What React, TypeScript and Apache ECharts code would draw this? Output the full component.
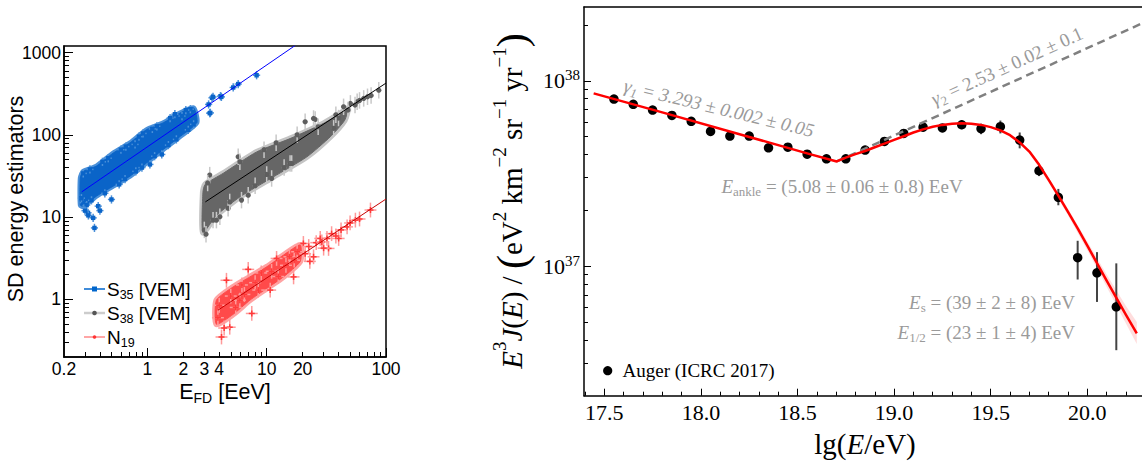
import React, { useEffect, useRef } from 'react';
import * as echarts from 'echarts';

// ================= LEFT PANEL DATA (E_FD [EeV], SD estimator) =================
const S35_CORE_UPPER = [[0.274, 30], [0.29, 36], [0.374, 41.7], [0.517, 60], [0.715, 80], [0.987, 116], [1.36, 140], [1.89, 185], [2.44, 213]];
const S35_CORE_LOWER = [[0.274, 14], [0.29, 13.5], [0.374, 18], [0.517, 23.8], [0.715, 31.5], [0.987, 45.7], [1.36, 66.5], [1.89, 96], [2.6, 140]];
const S35_POINTS = [
  [0.351, 9.8], [0.36, 7.4], [0.318, 11.3], [0.5, 16.4], [0.387, 13.6], [1.05, 43.7], [1.32, 57.8], [1.2, 127],
  [0.788, 76.5], [1.95, 169], [2.29, 205], [2.44, 134], [3.26, 234], [3.37, 185], [3.48, 282], [4.1, 295],
  [3.55, 289], [4.17, 289], [5.24, 376], [5.77, 414], [8.23, 530], [3.33, 183],
  [0.29, 34], [0.33, 38], [0.42, 47], [0.47, 52], [0.6, 66], [0.66, 72], [0.85, 95], [0.92, 104], [1.1, 118],
  [1.55, 160], [1.7, 178], [2.1, 200],
  [0.29, 15], [0.31, 14], [0.34, 16], [0.44, 19.5], [0.58, 25], [0.65, 29], [0.8, 36], [0.9, 40], [1.15, 55],
  [1.5, 75], [1.75, 88], [2.2, 115], [0.28, 17], [0.3, 12], [0.32, 10.5], [0.4, 12],
];
const S35_FIT = [[0.282, 20.3], [17.3, 1216]];

const S38_CORE_UPPER = [[2.92, 20], [3.05, 25], [4.31, 34], [8.24, 62], [15.7, 90], [30, 138], [41.5, 182], [48, 210]];
const S38_CORE_LOWER = [[2.92, 6.5], [3.79, 10.5], [5.96, 17.6], [11.4, 30.9], [21.7, 54], [34.1, 94.6], [45, 150]];
const S38_POINTS = [
  [3.33, 32.4], [5.77, 54.1], [5.96, 47], [11.0, 29.5], [15.7, 44.9], [21.0, 144], [25.5, 154], [36.4, 120],
  [6.15, 16.1], [7.0, 18.5], [4.75, 12.8], [4.05, 10.1], [3.55, 9.2], [50.3, 241], [57.3, 252], [65.0, 277],
  [87.0, 349], [44.1, 219], [24.7, 158], [16.2, 44.9], [4.9, 15.3], [3.79, 9.2], [3.0, 7], [3.1, 6.2], [3.2, 26],
  [9.5, 66], [12, 80], [18, 100], [27, 125], [10, 33], [14, 40], [8, 24], [55, 230], [60, 262], [70, 290],
  [75, 300], [48, 200], [40, 160], [38, 175],
];
const S38_FIT = [[3.06, 15.3], [100, 425]];

const N19_CORE_UPPER = [[3.79, 0.98], [5.23, 1.42], [7.23, 1.88], [10, 2.49], [13.8, 3.45], [19.1, 4.6]];
const N19_CORE_LOWER = [[3.79, 0.5], [5.23, 0.66], [7.23, 0.98], [10, 1.36], [13.8, 1.88], [19.1, 2.9]];
const N19_POINTS = [
  [4.18, 0.35], [4.6, 1.71], [7.0, 2.32], [7.5, 0.676], [10.7, 1.3], [16.8, 1.88], [20.3, 4.79], [32.0, 5.51],
  [40.1, 5.51], [47.2, 7.62], [55.4, 9.2], [74.1, 12.2], [28.1, 5.51], [24.7, 3.3], [33.0, 4.17], [5.96, 0.98],
  [4.9, 0.46], [12.1, 3.15], [3.9, 0.6], [4.0, 0.85], [4.4, 0.45], [5.0, 1.1], [5.5, 0.8], [6.2, 1.5], [6.5, 1.15],
  [8.0, 1.6], [8.5, 1.3], [9.0, 2.1], [11, 2.2], [12.5, 1.9], [14.5, 2.6], [15.5, 3.3], [17, 3.0], [18, 3.8],
  [21, 3.6], [22.5, 4.4], [23, 2.9], [26, 4.9], [29, 5.0], [30, 4.2], [35, 6.3], [38, 5.9], [42, 7.0], [50, 8.5], [60, 9.5],
];
const N19_FIT = [[3.9, 0.74], [100, 16.6]];

// error bar half-sizes in decades [x, y]
const S35_ERR = [0.03, 0.05];
const S38_ERR = [0.02, 0.1];
const N19_ERR = [0.05, 0.09];

const LX_RANGE = [0.2, 100];
const LY_RANGE = [0.2, 1200];
const LX_MAJOR = [1, 10, 100];
const LX_MINOR = [0.3, 0.4, 0.5, 0.6, 0.7, 0.8, 0.9, 2, 3, 4, 5, 6, 7, 8, 9, 20, 30, 40, 50, 60, 70, 80, 90];
const LX_LABELS = [0.2, 1, 2, 3, 4, 10, 20, 100];
const LY_MAJOR = [1, 10, 100, 1000];
const LY_MINOR = [0.3, 0.4, 0.5, 0.6, 0.7, 0.8, 0.9, 2, 3, 4, 5, 6, 7, 8, 9, 20, 30, 40, 50, 60, 70, 80, 90, 200, 300, 400, 500, 600, 700, 800, 900];
const LY_LABELS = [1, 10, 100, 1000];

// ================= RIGHT PANEL DATA (lg(E/eV), E^3 J in 1e37 eV^2 km^-2 sr^-1 yr^-1) =================
const LG_E = [17.55, 17.65, 17.75, 17.85, 17.95, 18.05, 18.15, 18.25, 18.35, 18.45, 18.55, 18.65, 18.75, 18.85, 18.95, 19.05, 19.15, 19.25, 19.35, 19.45, 19.55, 19.65, 19.75, 19.85, 19.95, 20.05, 20.15];
const FLUX_E37 = [7.97, 7.46, 6.95, 6.5, 6.04, 5.33, 5.03, 5.03, 4.35, 4.38, 4.02, 3.79, 3.79, 4.23, 4.71, 5.2, 5.62, 5.57, 5.79, 5.51, 5.65, 4.79, 3.27, 2.35, 1.11, 0.92, 0.603];
const FLUX_LOW_E37 = [7.9, 7.4, 6.9, 6.45, 5.99, 5.28, 4.98, 4.97, 4.29, 4.31, 3.95, 3.71, 3.7, 4.12, 4.58, 5.04, 5.42, 5.33, 5.48, 5.15, 5.2, 4.32, 3.06, 2.13, 0.847, 0.641, 0.352];
const FLUX_HIGH_E37 = [8.04, 7.52, 7.0, 6.55, 6.09, 5.38, 5.08, 5.09, 4.41, 4.45, 4.09, 3.87, 3.88, 4.34, 4.84, 5.36, 5.82, 5.81, 6.1, 5.87, 6.1, 5.26, 3.51, 2.61, 1.37, 1.19, 1.035];

const FIT_LG = [17.445, 17.8, 18.2, 18.55, 18.703, 18.75, 18.8, 18.85, 18.9, 18.95, 19.0, 19.05, 19.1, 19.15, 19.2, 19.25, 19.3, 19.35, 19.4, 19.45, 19.5, 19.55, 19.6, 19.65, 19.7, 19.75, 19.8, 19.85, 19.9, 19.95, 20.0, 20.1, 20.2, 20.256];
const FIT_E37 = [8.55, 6.75, 5.15, 4.06, 3.67, 3.85, 4.02, 4.18, 4.38, 4.58, 4.8, 5.02, 5.26, 5.47, 5.65, 5.78, 5.86, 5.9, 5.87, 5.78, 5.62, 5.4, 5.09, 4.65, 4.15, 3.53, 2.92, 2.4, 1.96, 1.6, 1.29, 0.836, 0.546, 0.434];

const BAND_LG = [19.6, 19.7, 19.8, 19.9, 20.0, 20.1, 20.2, 20.256];
const BAND_LOW_E37 = [5.02, 4.06, 2.83, 1.88, 1.22, 0.775, 0.49, 0.38];
const BAND_HIGH_E37 = [5.16, 4.25, 3.01, 2.04, 1.36, 0.9, 0.61, 0.5];

const GAMMA2_LG = [18.703, 20.283];
const GAMMA2_E37 = [3.67, 20.4];

const RX_RANGE = [17.395, 20.283];
const RY_RANGE_E37 = [0.2, 25];
const RX_MAJOR = [17.5, 18.0, 18.5, 19.0, 19.5, 20.0];
const RX_MINOR = [17.4, 17.6, 17.7, 17.8, 17.9, 18.1, 18.2, 18.3, 18.4, 18.6, 18.7, 18.8, 18.9, 19.1, 19.2, 19.3, 19.4, 19.6, 19.7, 19.8, 19.9, 20.1, 20.2];
const RY_MAJOR_E37 = [1, 10];
const RY_MINOR_E37 = [0.3, 0.4, 0.5, 0.6, 0.7, 0.8, 0.9, 2, 3, 4, 5, 6, 7, 8, 9, 20];

// ================= helpers =================
const LF = "'Liberation Sans', Arial, sans-serif";
const RF = "'Liberation Serif', 'Times New Roman', serif";
const L = (v: number) => Math.log10(v);
const LE = (v: number) => 37 + Math.log10(v);
const GREY = '#9a9a9a';

function polygonSeries(upper: number[][], lower: number[][], fill: string, halo: string, xi: number, yi: number, haloW = 6) {
  const pts = upper.concat(lower.slice().reverse()).map((p) => [L(p[0]), L(p[1])]);
  return {
    type: 'custom', xAxisIndex: xi, yAxisIndex: yi, silent: true,
    data: [pts[0]],
    renderItem: (_p: any, api: any) => {
      const poly = pts.map((p) => api.coord(p));
      return {
        type: 'group', children: [
          { type: 'polygon', shape: { points: poly, smooth: 0.2 }, style: { fill: halo, stroke: halo, lineWidth: haloW, lineJoin: 'round' } },
          { type: 'polygon', shape: { points: poly, smooth: 0.2 }, style: { fill, stroke: fill, lineWidth: 1, lineJoin: 'round' } },
        ],
      };
    },
  };
}

function crossSeries(points: number[][], err: number[], errColor: string, ptColor: string, marker: string, xi: number, yi: number) {
  return {
    type: 'custom', xAxisIndex: xi, yAxisIndex: yi, silent: true,
    data: points.map((p) => [L(p[0]), L(p[1])]),
    renderItem: (_p: any, api: any) => {
      const lx = api.value(0), ly = api.value(1);
      const c = api.coord([lx, ly]);
      const l = api.coord([lx - err[0], ly]), r = api.coord([lx + err[0], ly]);
      const b = api.coord([lx, ly - err[1]]), t = api.coord([lx, ly + err[1]]);
      const children: any[] = [
        { type: 'line', shape: { x1: l[0], y1: c[1], x2: r[0], y2: c[1] }, style: { stroke: errColor, lineWidth: 1.5 } },
        { type: 'line', shape: { x1: c[0], y1: t[1], x2: c[0], y2: b[1] }, style: { stroke: errColor, lineWidth: 1.5 } },
      ];
      if (marker === 'square') {
        children.push({ type: 'rect', shape: { x: c[0] - 2.2, y: c[1] - 2.2, width: 4.4, height: 4.4 }, style: { fill: ptColor } });
      } else if (marker === 'circle') {
        children.push({ type: 'circle', shape: { cx: c[0], cy: c[1], r: 2.6 }, style: { fill: ptColor } });
      } else {
        children.push({ type: 'line', shape: { x1: c[0] - 3, y1: c[1], x2: c[0] + 3, y2: c[1] }, style: { stroke: ptColor, lineWidth: 1.5 } });
        children.push({ type: 'line', shape: { x1: c[0], y1: c[1] - 3, x2: c[0], y2: c[1] + 3 }, style: { stroke: ptColor, lineWidth: 1.5 } });
      }
      return { type: 'group', children };
    },
  };
}

function tickAxis(kind: 'x' | 'y', gridIndex: number, min: number, max: number, ticks: number[], len: number, extra: any = {}) {
  const base: any = {
    type: 'value', gridIndex, min, max,
    position: kind === 'x' ? 'bottom' : 'left',
    axisLine: { show: false, onZero: false },
    axisTick: { show: true, inside: true, length: len, customValues: ticks, lineStyle: { color: '#000', width: 1 } },
    axisLabel: { show: false },
    splitLine: { show: false },
    ...extra,
  };
  base.axisLine = { ...base.axisLine, onZero: false };
  return base;
}

function leftFmt(v: number) {
  const n = Math.pow(10, v);
  return n < 1 ? n.toFixed(1) : String(Math.round(n));
}

function buildOption() {
  const lxMin = L(LX_RANGE[0]), lxMax = L(LX_RANGE[1]);
  const lyMin = L(LY_RANGE[0]), lyMax = L(LY_RANGE[1]);
  const ryMin = LE(RY_RANGE_E37[0]), ryMax = LE(RY_RANGE_E37[1]);

  const leftLabel = { show: true, formatter: leftFmt, fontSize: 17.5, fontFamily: LF, color: '#000', margin: 3 };
  const frameLine = { show: true, onZero: false, lineStyle: { color: '#000', width: 1.5 } };

  const xAxis = [
    tickAxis('x', 0, lxMin, lxMax, LX_MAJOR.map(L), 9, {
      axisLine: frameLine,
      axisLabel: { ...leftLabel, customValues: LX_LABELS.map(L), margin: 3 },
    }),
    tickAxis('x', 0, lxMin, lxMax, LX_MINOR.map(L), 5),
    tickAxis('x', 1, RX_RANGE[0], RX_RANGE[1], RX_MAJOR, 7, {
      axisLine: frameLine,
      axisLabel: { show: true, customValues: RX_MAJOR, formatter: (v: number) => v.toFixed(1), fontSize: 22, fontFamily: RF, color: '#000', margin: 6 },
    }),
    tickAxis('x', 1, RX_RANGE[0], RX_RANGE[1], RX_MINOR, 4),
    { type: 'value', gridIndex: 1, min: RX_RANGE[0], max: RX_RANGE[1], position: 'top', axisLine: frameLine, axisTick: { show: false }, axisLabel: { show: false }, splitLine: { show: false } },
  ];

  const yAxis = [
    tickAxis('y', 0, lyMin, lyMax, LY_MAJOR.map(L), 9, {
      axisLine: frameLine,
      axisLabel: { ...leftLabel, customValues: LY_LABELS.map(L) },
    }),
    tickAxis('y', 0, lyMin, lyMax, LY_MINOR.map(L), 5),
    tickAxis('y', 1, ryMin, ryMax, RY_MAJOR_E37.map(LE), 7, {
      axisLine: frameLine,
      axisLabel: {
        show: true, customValues: RY_MAJOR_E37.map(LE), margin: 4,
        formatter: (v: number) => `{b|10}{s|${Math.round(v)}}`,
        rich: {
          b: { fontSize: 22, fontFamily: RF, color: '#000', lineHeight: 26 },
          s: { fontSize: 15, fontFamily: RF, color: '#000', verticalAlign: 'top', lineHeight: 16 },
        },
      },
    }),
    tickAxis('y', 1, ryMin, ryMax, RY_MINOR_E37.map(LE), 4),
  ];

  const series: any[] = [
    polygonSeries(S35_CORE_UPPER, S35_CORE_LOWER, '#0a64c8', '#4a90d9', 0, 0, 5),
    polygonSeries(S38_CORE_UPPER, S38_CORE_LOWER, '#666666', '#c4c4c4', 0, 0, 6),
    polygonSeries(N19_CORE_UPPER, N19_CORE_LOWER, '#ff4a4a', '#ffa3a3', 0, 0, 6),
    crossSeries(S35_POINTS, S35_ERR, '#4a90d9', '#0a64c8', 'square', 0, 0),
    crossSeries(S38_POINTS, S38_ERR, '#c8c8c8', '#5e5e5e', 'circle', 0, 0),
    crossSeries(N19_POINTS, N19_ERR, '#ff9a9a', '#ff3a3a', 'cross', 0, 0),
    { type: 'line', xAxisIndex: 0, yAxisIndex: 0, data: S35_FIT.map((p) => [L(p[0]), L(p[1])]), symbol: 'none', lineStyle: { color: '#0000ff', width: 1 }, silent: true, clip: true },
    { type: 'line', xAxisIndex: 0, yAxisIndex: 0, data: S38_FIT.map((p) => [L(p[0]), L(p[1])]), symbol: 'none', lineStyle: { color: '#000000', width: 1 }, silent: true, clip: true },
    { type: 'line', xAxisIndex: 0, yAxisIndex: 0, data: N19_FIT.map((p) => [L(p[0]), L(p[1])]), symbol: 'none', lineStyle: { color: '#c80000', width: 1 }, silent: true, clip: true },
    {
      type: 'custom', xAxisIndex: 2, yAxisIndex: 2, silent: true, data: [[BAND_LG[0], LE(BAND_LOW_E37[0])]],
      renderItem: (_p: any, api: any) => {
        const up = BAND_LG.map((x, i) => api.coord([x, LE(BAND_HIGH_E37[i])]));
        const lo = BAND_LG.map((x, i) => api.coord([x, LE(BAND_LOW_E37[i])])).reverse();
        return { type: 'polygon', shape: { points: up.concat(lo) }, style: { fill: 'rgba(255,120,120,0.25)' } };
      },
    },
    { type: 'line', xAxisIndex: 2, yAxisIndex: 2, data: GAMMA2_LG.map((x, i) => [x, LE(GAMMA2_E37[i])]), symbol: 'none', lineStyle: { color: '#808080', width: 2.5, type: [8, 5] }, silent: true },
    { type: 'line', xAxisIndex: 2, yAxisIndex: 2, data: FIT_LG.map((x, i) => [x, LE(FIT_E37[i])]), symbol: 'none', smooth: false, lineStyle: { color: '#ff0000', width: 2.5, join: 'round' }, silent: true },
    {
      type: 'custom', xAxisIndex: 2, yAxisIndex: 2, silent: true,
      data: LG_E.map((x, i) => [x, LE(FLUX_LOW_E37[i]), LE(FLUX_HIGH_E37[i])]),
      renderItem: (_p: any, api: any) => {
        const a = api.coord([api.value(0), api.value(1)]);
        const b = api.coord([api.value(0), api.value(2)]);
        return { type: 'line', shape: { x1: a[0], y1: a[1], x2: b[0], y2: b[1] }, style: { stroke: '#444444', lineWidth: 2 } };
      },
    },
    { type: 'scatter', xAxisIndex: 2, yAxisIndex: 2, data: LG_E.map((x, i) => [x, LE(FLUX_E37[i])]), symbol: 'circle', symbolSize: 9.5, itemStyle: { color: '#000', opacity: 1 }, silent: true },
  ];

  const legRich = {
    a: { fontSize: 19, fontFamily: LF, fill: '#000', lineHeight: 24 },
    s: { fontSize: 12.5, fontFamily: LF, fill: '#000', verticalAlign: 'bottom', lineHeight: 14 },
  };
  const annRich = {
    i: { fontSize: 19, fontFamily: RF, fontStyle: 'italic', fill: GREY, lineHeight: 24 },
    t: { fontSize: 19, fontFamily: RF, fill: GREY, lineHeight: 24 },
    ti: { fontSize: 19, fontFamily: RF, fontStyle: 'italic', fill: GREY, lineHeight: 24 },
    sub: { fontSize: 13, fontFamily: RF, fill: GREY, verticalAlign: 'bottom', lineHeight: 14 },
    subi: { fontSize: 13, fontFamily: RF, fontStyle: 'italic', fill: GREY, verticalAlign: 'bottom', lineHeight: 14 },
  };
  const titleRich = {
    i: { fontSize: 29, fontFamily: RF, fontStyle: 'italic', fill: '#000', lineHeight: 40 },
    r: { fontSize: 29, fontFamily: RF, fill: '#000', lineHeight: 40 },
    u: { fontSize: 19, fontFamily: RF, fill: '#000', verticalAlign: 'top', lineHeight: 22 },
    p: { fontSize: 42, fontFamily: RF, fill: '#000', lineHeight: 44 },
  };

  const graphic: any[] = [
    // left legend
    { type: 'line', shape: { x1: 84, y1: 289, x2: 105, y2: 289 }, style: { stroke: '#0066cc', lineWidth: 1.5 } },
    { type: 'rect', shape: { x: 92, y: 286.5, width: 5, height: 5 }, style: { fill: '#0066cc' } },
    { type: 'text', x: 107, y: 289, style: { text: '{a|S}{s|35}{a| [VEM]}', rich: legRich, align: 'left', verticalAlign: 'middle' } },
    { type: 'line', shape: { x1: 84, y1: 313, x2: 105, y2: 313 }, style: { stroke: '#cccccc', lineWidth: 2.5 } },
    { type: 'circle', shape: { cx: 94.5, cy: 313, r: 2.3 }, style: { fill: '#555555' } },
    { type: 'text', x: 107, y: 313, style: { text: '{a|S}{s|38}{a| [VEM]}', rich: legRich, align: 'left', verticalAlign: 'middle' } },
    { type: 'line', shape: { x1: 84, y1: 337, x2: 105, y2: 337 }, style: { stroke: '#ff8888', lineWidth: 1.5 } },
    { type: 'circle', shape: { cx: 94.5, cy: 337, r: 1.8 }, style: { fill: '#ff3333' } },
    { type: 'text', x: 107, y: 337, style: { text: '{a|N}{s|19}', rich: legRich, align: 'left', verticalAlign: 'middle' } },
    // left titles
    { type: 'text', x: 16, y: 199, rotation: Math.PI / 2, style: { text: 'SD energy estimators', fontSize: 21.5, fontFamily: LF, fill: '#000', align: 'center', verticalAlign: 'middle' } },
    { type: 'text', x: 225, y: 392, style: { text: '{a|E}{s|FD}{a| [EeV]}', rich: { a: { fontSize: 21.5, fontFamily: LF, fill: '#000', lineHeight: 26 }, s: { fontSize: 14, fontFamily: LF, fill: '#000', verticalAlign: 'bottom', lineHeight: 15 } }, align: 'center', verticalAlign: 'middle' } },
    // right titles
    { type: 'text', x: 865, y: 444, style: { text: '{r|lg(}{i|E}{r|/eV)}', rich: titleRich, align: 'center', verticalAlign: 'middle' } },
    {
      type: 'text', x: 512, y: 201, rotation: Math.PI / 2,
      style: { text: '{i|E}{u|3}{i|J}{r|(}{i|E}{r|) / }{p|(}{r|eV}{u|2}{r| km}{u|−2}{r| sr}{u|−1}{r| yr}{u|−1}{p|)}', rich: titleRich, align: 'center', verticalAlign: 'middle' },
    },
    // right annotations
    { type: 'text', x: 719, y: 108, rotation: -0.236, style: { text: '{i|γ}{subi|1}{ti| = 3.293 ± 0.002 ± 0.05}', rich: annRich, align: 'center', verticalAlign: 'middle' } },
    { type: 'text', x: 1007, y: 66, rotation: 0.426, style: { text: '{i|γ}{sub|2}{t| = 2.53 ± 0.02 ± 0.1}', rich: annRich, align: 'center', verticalAlign: 'middle' } },
    { type: 'text', x: 842, y: 186, style: { text: '{i|E}{sub|ankle}{t| = (5.08 ± 0.06 ± 0.8) EeV}', rich: annRich, align: 'center', verticalAlign: 'middle' } },
    { type: 'text', x: 1075, y: 302, style: { text: '{i|E}{sub|s}{t| = (39 ± 2 ± 8) EeV}', rich: annRich, align: 'right', verticalAlign: 'middle' } },
    { type: 'text', x: 1075, y: 332, style: { text: '{i|E}{sub|1/2}{t| = (23 ± 1 ± 4) EeV}', rich: annRich, align: 'right', verticalAlign: 'middle' } },
    // right legend
    { type: 'circle', shape: { cx: 607.7, cy: 370.7, r: 4.6 }, style: { fill: '#000' } },
    { type: 'text', x: 622.5, y: 370.7, style: { text: 'Auger (ICRC 2017)', fontSize: 19, fontFamily: RF, fill: '#000', align: 'left', verticalAlign: 'middle' } },
  ];

  return {
    animation: false,
    backgroundColor: '#fff',
    grid: [
      { left: 64, top: 46, width: 322, height: 311, show: true, borderColor: '#000', borderWidth: 1.5, backgroundColor: 'transparent' },
      { left: 584, top: 7, width: 558, height: 388.7, show: false },
    ],
    xAxis,
    yAxis,
    series,
    graphic,
  };
}

export default function App() {
  const ref = useRef<HTMLDivElement>(null);
  useEffect(() => {
    document.body.style.margin = '0';
    const chart = echarts.init(ref.current as HTMLDivElement, undefined, { renderer: 'svg' });
    chart.setOption(buildOption() as any);
    return () => chart.dispose();
  }, []);
  return <div ref={ref} style={{ width: 1142, height: 463 }} />;
}
